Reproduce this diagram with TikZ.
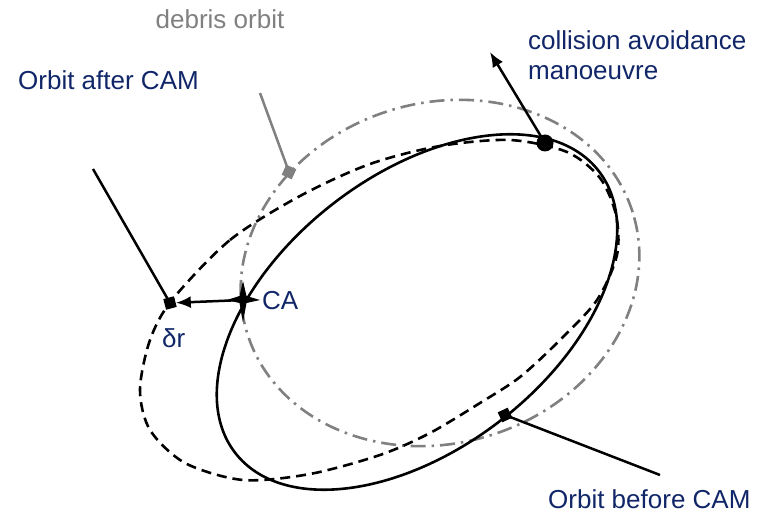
\documentclass[tikz,border=0pt]{standalone}
\usepackage{fontspec}
\setmainfont{Liberation Sans}
\usetikzlibrary{arrows.meta,shapes.geometric}
\definecolor{navy}{RGB}{16,38,104}
\definecolor{dgray}{RGB}{128,128,128}
\begin{document}
\begin{tikzpicture}[x=1pt,y=-1pt,
  lbl/.style={font=\fontsize{26}{30}\selectfont, text=navy, inner sep=0pt},
  glbl/.style={font=\fontsize{26}{30}\selectfont, text=dgray, inner sep=0pt},
  orbline/.style={line width=2.6pt},
  afterline/.style={line width=2.6pt, dash pattern=on 10pt off 6pt},
  debrisline/.style={line width=2.6pt, dgray, dash pattern=on 15pt off 6pt on 2.5pt off 6pt},
  leader/.style={line width=2.5pt},
  sqmark/.style={rectangle, fill=black, inner sep=0pt, minimum size=11pt},
  tip/.style={-{Latex[length=15pt,width=12pt]}}
]
\useasboundingbox (0,0) rectangle (761,513);

% debris orbit
\draw[debrisline, rotate around={17.5:(440,273)}] (440,273) ellipse [x radius=202pt, y radius=170pt];

% orbit after CAM (dashed)
\draw[afterline] plot[smooth cycle] coordinates {
 (172,300) (230,240) (300,196) (370,164) (440,146) (510,140) (567,152) (600,178)
 (616,215) (617,255) (597,300) (560,340) (520,377) (480,403) (430,433) (380,455)
 (310,474) (243,480) (185,463) (150,430) (140,390) (150,340)};

% orbit before CAM (solid)
\draw[orbline, rotate around={37.8:(417,312)}] (417,312) ellipse [x radius=230pt, y radius=137pt];

% markers
\node[circle, fill=black, inner sep=0pt, minimum size=17pt] (cam) at (545,143) {};
\node[sqmark, rotate=15] (dr) at (170,303) {};
\node[sqmark, rotate=-25, fill=dgray] (deb) at (289,172) {};
\node[sqmark, rotate=25] (bef) at (505,415) {};
\coordinate (CA) at (243,300);
\fill[shift={(CA)}] (0,-19) -- (3.5,-4) -- (17,0) -- (3.5,3) -- (0,22) -- (-3.5,3) -- (-16,0) -- (-3.5,-4) -- cycle;

% leader ends
\coordinate (afterend) at (93,169);
\coordinate (debend) at (260,93);
\coordinate (befend) at (660,475);
\coordinate (camend) at (490,52);

% connectors
\draw[leader] (afterend) -- (dr.center);
\draw[leader, dgray] (debend) -- (deb.center);
\draw[leader] (befend) -- (bef.center);
\draw[leader, tip] (cam.center) -- (camend);
\draw[leader, tip] (CA) -- (dr);

% labels
\node[glbl, anchor=base] (tdeb) at (220,29) {debris orbit};
\node[lbl, anchor=base west] (tafter) at (18,90) {Orbit after CAM};
\node[lbl, anchor=base west] (tcam1) at (528,50) {collision avoidance};
\node[lbl, anchor=base west] (tcam2) at (528,80) {manoeuvre};
\node[lbl, anchor=base west] (tbef) at (548,508) {Orbit before CAM};
\node[lbl, anchor=base west] (tca) at (262,310) {CA};
\node[lbl, anchor=base west] (tdr) at (162,348) {δr};
\end{tikzpicture}
\end{document}
